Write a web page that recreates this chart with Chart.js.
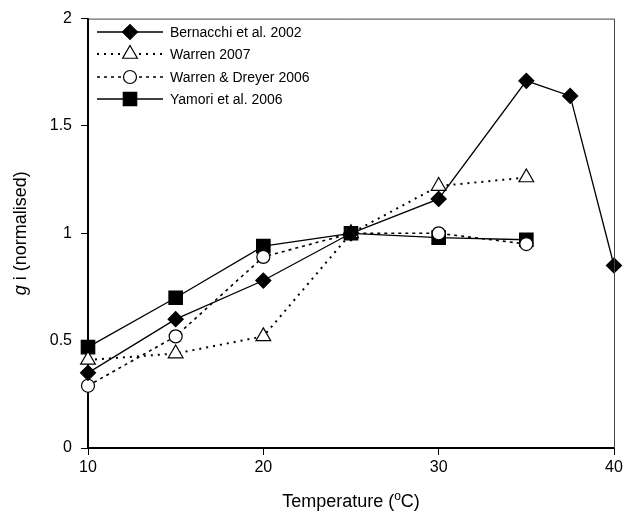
<!DOCTYPE html>
<html>
<head>
<meta charset="utf-8">
<script src="https://cdn.jsdelivr.net/npm/chart.js@4.4.1/dist/chart.umd.min.js"></script>
<style>
  html, body { margin: 0; padding: 0; background: #fff; }
  #wrap { width: 626px; height: 513px; }
</style>
</head>
<body>
<div id="wrap"><canvas id="giChart"></canvas></div>
<script>
// temperatures (oC) and normalised gi per study
const tempsB = [10, 15, 20, 25, 30, 35, 37.5, 40];
const tempsW = [10, 15, 20, 25, 30, 35];
const bernacchi = [0.35, 0.60, 0.78, 1.00, 1.16, 1.71, 1.64, 0.85];
const warren2007 = [0.41, 0.44, 0.52, 1.00, 1.22, 1.26];
const warrenDreyer = [0.29, 0.52, 0.89, 1.00, 1.00, 0.95];
const yamori = [0.47, 0.70, 0.94, 1.00, 0.98, 0.97];
const seriesNames = ["Bernacchi et al. 2002", "Warren 2007", "Warren & Dreyer 2006", "Yamori et al. 2006"];
const xTicks = [10, 20, 30, 40];
const yTicks = [0, 0.5, 1, 1.5, 2];
const yTickLabels = ["0", "0.5", "1", "1.5", "2"];

const FONT = "'Liberation Sans', Arial, sans-serif";

function pts(xs, ys) {
    return ys.map(function (y, i) { return { x: xs[i], y: y }; });
}

function makeSet(label, xs, ys, style, radius, fill, dash, width) {
    return {
        label: label,
        data: pts(xs, ys),
        borderColor: "#000",
        borderWidth: width,
        borderDash: dash,
        pointStyle: style,
        pointRadius: radius,
        pointHoverRadius: radius,
        pointBackgroundColor: fill,
        pointBorderColor: "#000",
        pointBorderWidth: 1.2,
        tension: 0,
        clip: false
    };
}

const datasets = [
    makeSet(seriesNames[0], tempsB, bernacchi, "rectRot", 7.5, "#000", [], 1.3),
    makeSet(seriesNames[1], tempsW, warren2007, "triangle", 8.5, "#fff", [2, 5], 2),
    makeSet(seriesNames[2], tempsW, warrenDreyer, "circle", 6.5, "#fff", [3, 4], 1.6),
    makeSet(seriesNames[3], tempsW, yamori, "rect", 9.5, "#000", [], 1.3)
];

// legend with line sample + marker, title texts, and the thin frame
const extras = {
    id: "extras",
    afterDraw: function (chart) {
        const ctx = chart.ctx;
        const a = chart.chartArea;
        ctx.save();

        // top / right frame
        ctx.strokeStyle = "#444";
        ctx.lineWidth = 1;
        ctx.beginPath();
        ctx.moveTo(a.left, a.top + 0.5);
        ctx.lineTo(a.right + 0.5, a.top + 0.5);
        ctx.lineTo(a.right + 0.5, a.bottom);
        ctx.stroke();

        // legend
        const rows = [32, 54, 77, 99];
        chart.data.datasets.forEach(function (ds, i) {
            const y = rows[i];
            ctx.strokeStyle = "#000";
            ctx.lineWidth = ds.borderWidth;
            ctx.setLineDash(ds.borderDash);
            ctx.beginPath();
            ctx.moveTo(97, y);
            ctx.lineTo(163, y);
            ctx.stroke();
            ctx.setLineDash([]);
            ctx.fillStyle = ds.pointBackgroundColor;
            ctx.strokeStyle = "#000";
            ctx.lineWidth = ds.pointBorderWidth;
            Chart.helpers.drawPoint(ctx, {
                pointStyle: ds.pointStyle,
                radius: ds.pointRadius,
                borderWidth: ds.pointBorderWidth,
                rotation: 0
            }, 130, y);
            ctx.fillStyle = "#000";
            ctx.font = "14px " + FONT;
            ctx.textAlign = "left";
            ctx.textBaseline = "middle";
            ctx.fillText(ds.label, 170, y + 1);
        });

        // x title with superscript o
        ctx.fillStyle = "#000";
        ctx.textBaseline = "alphabetic";
        ctx.textAlign = "left";
        const big = "18px " + FONT, small = "12px " + FONT;
        ctx.font = big;
        const p1 = "Temperature (", p3 = "C)";
        const w1 = ctx.measureText(p1).width, w3 = ctx.measureText(p3).width;
        ctx.font = small;
        const w2 = ctx.measureText("o").width;
        let x = (a.left + a.right) / 2 - (w1 + w2 + w3) / 2;
        const by = 507;
        ctx.font = big; ctx.fillText(p1, x, by); x += w1;
        ctx.font = small; ctx.fillText("o", x, by - 7); x += w2;
        ctx.font = big; ctx.fillText(p3, x, by);

        // y title with italic g
        ctx.translate(26, (a.top + a.bottom) / 2);
        ctx.rotate(-Math.PI / 2);
        const ig = "italic 18px " + FONT;
        ctx.font = ig;
        const g = "g";
        const wg = ctx.measureText(g).width;
        ctx.font = big;
        const rest = " i (normalised)";
        const wr = ctx.measureText(rest).width;
        let tx = -(wg + wr) / 2;
        ctx.font = ig; ctx.fillText(g, tx, 0); tx += wg;
        ctx.font = big; ctx.fillText(rest, tx, 0);

        ctx.restore();
    }
};

new Chart(document.getElementById("giChart"), {
    type: "line",
    data: { datasets: datasets },
    options: {
        responsive: true,
        maintainAspectRatio: false,
        animation: false,
        events: [],
        layout: { padding: { top: 18, right: 12, left: 0, bottom: 0 } },
        plugins: { legend: { display: false }, tooltip: { enabled: false } },
        scales: {
            x: {
                type: "linear",
                min: 10,
                max: 40,
                afterBuildTicks: function (scale) { scale.ticks = xTicks.map(function (v) { return { value: v }; }); },
                afterFit: function (scale) { scale.height = 65; },
                grid: { drawOnChartArea: false, tickLength: 7, tickColor: "#000", tickWidth: 1 },
                border: { color: "#000", width: 2 },
                ticks: { color: "#000", font: { family: FONT, size: 16 }, padding: 3, maxRotation: 0 }
            },
            y: {
                min: 0,
                max: 2,
                afterBuildTicks: function (scale) { scale.ticks = yTicks.map(function (v) { return { value: v }; }); },
                afterFit: function (scale) { scale.width = 88; },
                grid: { drawOnChartArea: false, tickLength: 7, tickColor: "#000", tickWidth: 1 },
                border: { color: "#000", width: 2 },
                ticks: {
                    color: "#000",
                    font: { family: FONT, size: 16 },
                    padding: 9,
                    callback: function (v) { return yTickLabels[yTicks.indexOf(v)]; }
                }
            }
        }
    },
    plugins: [extras]
});
</script>
</body>
</html>
